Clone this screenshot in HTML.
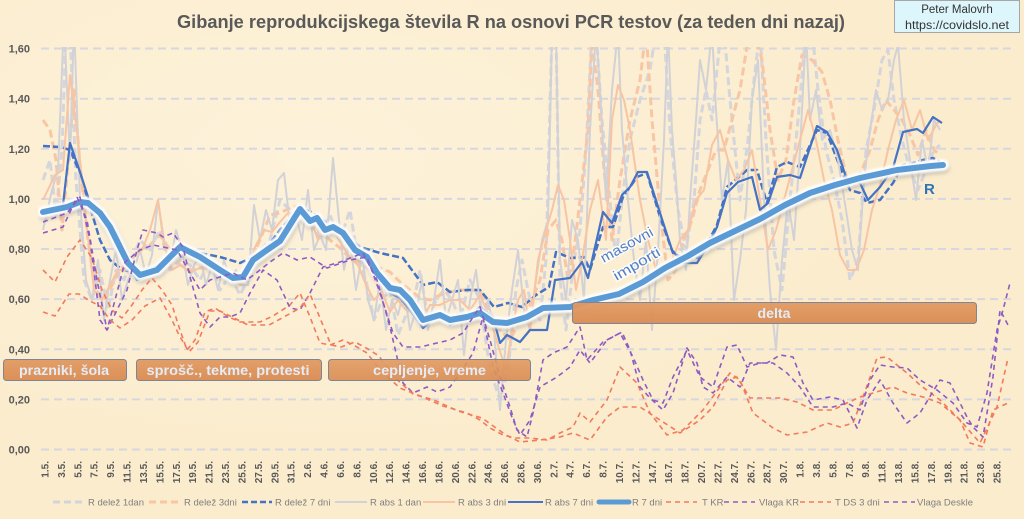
<!DOCTYPE html>
<html>
<head>
<meta charset="utf-8">
<style>
  html,body{margin:0;padding:0;background:#fcefd3;}
  svg{display:block;}
</style>
</head>
<body>
<svg width="1024" height="519" viewBox="0 0 1024 519" xmlns="http://www.w3.org/2000/svg">
  <defs>
    <radialGradient id="bg1" cx="30%" cy="30%" r="60%">
      <stop offset="0" stop-color="#fdf2da" stop-opacity="1"/>
      <stop offset="1" stop-color="#fbeccd" stop-opacity="1"/>
    </radialGradient>
    <clipPath id="plot"><rect x="38" y="47" width="980" height="406"/></clipPath>
    <filter id="blur2" x="-5%" y="-20%" width="110%" height="140%"><feGaussianBlur stdDeviation="2"/></filter>
    <filter id="blur1" x="-5%" y="-20%" width="110%" height="140%"><feGaussianBlur stdDeviation="1"/></filter>
    <linearGradient id="boxg" x1="0" y1="0" x2="0" y2="1">
      <stop offset="0" stop-color="#e29a62"/>
      <stop offset="1" stop-color="#d98b52"/>
    </linearGradient>
  </defs>

  <!-- background -->
  <rect x="0" y="0" width="1024" height="519" fill="url(#bg1)"/>

  <!-- title -->
  <text x="177" y="28" font-family="Liberation Sans, sans-serif" font-size="18" font-weight="bold" fill="#595959" textLength="668" lengthAdjust="spacingAndGlyphs">Gibanje reprodukcijskega števila R na osnovi PCR testov (za teden dni nazaj)</text>

  <!-- author box -->
  <rect x="894.5" y="0.5" width="125" height="32" fill="#dcf6fb" stroke="#a6a6a6" stroke-width="1"/>
  <text x="957" y="13" text-anchor="middle" font-family="Liberation Sans, sans-serif" font-size="11.5" fill="#333">Peter Malovrh</text>
  <text x="957" y="29" text-anchor="middle" font-family="Liberation Sans, sans-serif" font-size="12" fill="#333" textLength="104" lengthAdjust="spacingAndGlyphs">https://covidslo.net</text>

  <!-- gridlines -->
  <g stroke="#d6d7df" stroke-width="2" stroke-dasharray="8 5" fill="none">
    <line x1="41" y1="449.5" x2="1013" y2="449.5"/>
    <line x1="41" y1="399.4" x2="1013" y2="399.4"/>
    <line x1="41" y1="349.3" x2="1013" y2="349.3"/>
    <line x1="41" y1="299.1" x2="1013" y2="299.1"/>
    <line x1="41" y1="249.0" x2="1013" y2="249.0"/>
    <line x1="41" y1="198.9" x2="1013" y2="198.9"/>
    <line x1="41" y1="148.8" x2="1013" y2="148.8"/>
    <line x1="41" y1="98.7" x2="1013" y2="98.7"/>
    <line x1="41" y1="48.5" x2="1013" y2="48.5"/>
  </g>

  <!-- y labels -->
  <g font-family="Liberation Sans, sans-serif" font-size="11" font-weight="bold" fill="#595959" text-anchor="end">
    <text x="30" y="453.5">0,00</text>
    <text x="30" y="403.4">0,20</text>
    <text x="30" y="353.3">0,40</text>
    <text x="30" y="303.1">0,60</text>
    <text x="30" y="253.0">0,80</text>
    <text x="30" y="202.9">1,00</text>
    <text x="30" y="152.8">1,20</text>
    <text x="30" y="102.7">1,40</text>
    <text x="30" y="52.5">1,60</text>
  </g>

  <!-- annotation boxes (under series partly) -->
  <g clip-path="url(#plot)">
    <!-- R delež 1dan (gray dashed) -->
    <polyline fill="none" stroke="#d5d5dc" stroke-width="3" stroke-dasharray="8 4" stroke-linejoin="round" points="43,180 50,160 56,215 62,150 66,30 70,30 76,180 84,280 92,300 100,270 108,310 116,270 124,280 132,260 140,240 150,250 160,230 170,270 180,260 190,265 200,280 210,260 220,290 230,275 240,295 250,275 260,250 270,240 280,200 290,210 300,215 310,215 320,240 330,215 340,240 350,210 358,260 366,280 374,320 382,300 390,290 398,335 406,315 414,300 420,270 428,320 436,300 444,290 452,300 460,320 470,280 480,300 490,370 500,400 508,370 516,290 522,260 530,300 540,320 546,260 552,30 556,30 560,280 566,330 574,260 580,230 586,150 592,30 596,30 602,120 610,200 616,260 622,200 630,140 640,100 650,70 656,30 664,30 670,130 678,210 686,250 694,200 700,120 706,90 712,120 720,40 724,30 730,100 740,200 748,140 754,80 760,30 766,140 774,250 782,290 790,200 798,120 806,30 812,30 818,90 826,150 834,180 842,220 850,280 858,260 866,150 874,110 882,60 888,50 894,100 902,140 910,170 918,190 926,170 934,150 940,145"/>
    <!-- R delež 3dni (peach dashed) -->
    <polyline fill="none" stroke="#f8c6a5" stroke-width="3" stroke-dasharray="8 4" stroke-linejoin="round" points="43,120 50,130 56,160 62,230 68,165 74,90 80,165 88,240 96,290 104,300 112,285 120,270 130,260 140,250 150,245 160,235 170,250 180,265 190,270 200,268 210,268 220,268 230,275 240,282 250,262 260,240 270,215 280,213 290,208 300,205 310,220 320,232 330,240 340,248 350,258 360,262 370,270 380,268 390,272 400,282 410,290 420,298 430,300 440,295 450,292 460,290 470,290 480,290 490,312 500,330 510,340 520,320 530,305 540,280 548,230 556,220 562,240 568,280 574,250 580,200 588,130 592,40 598,90 604,170 612,240 620,180 630,120 640,80 646,30 652,120 660,210 668,280 676,270 684,240 692,220 700,190 708,170 716,150 724,150 732,120 740,90 748,40 754,30 762,60 770,130 778,180 786,160 794,100 802,55 812,60 822,72 830,100 838,140 846,175 854,185 862,170 870,150 878,120 886,100 894,110 902,120 910,135 918,155 926,130 934,150 940,155"/>
    <!-- R delež 7 dni (blue dashed) -->
    <polyline fill="none" stroke="#4472c4" stroke-width="2.5" stroke-dasharray="7 3" stroke-linejoin="round" points="43,146 60,147 70,150 80,173 90,207 100,240 110,260 120,268 133,273 157,267 180,245 200,253 220,257 240,263 253,257 267,247 280,230 300,207 313,213 330,225 345,235 360,247 380,253 403,258 423,285 437,282 450,292 467,290 480,290 494,307 508,303 522,307 536,295 549,287 556,252 570,258 584,257 590,270 603,227 613,227 623,197 637,177 647,173 660,217 673,253 687,260 700,257 717,225 727,187 747,170 757,170 767,203 777,167 787,162 800,167 817,130 827,133 840,167 850,190 860,193 867,203 880,200 893,183 903,165 913,163 923,160 933,158 940,162"/>
    <!-- R abs 1 dan (gray solid) -->
    <polyline fill="none" stroke="#d2d2d6" stroke-width="2" stroke-linejoin="round" points="43,230 52,190 58,170 64,20 70,160 74,20 80,200 86,280 92,300 98,260 104,320 110,280 116,250 122,300 128,280 134,270 140,250 146,275 152,255 158,200 164,240 170,265 176,230 182,250 188,285 194,265 200,255 206,285 212,265 218,290 224,260 230,280 236,270 242,285 248,285 254,205 260,240 266,210 272,230 278,180 284,173 290,225 296,215 302,240 308,190 314,250 320,235 326,250 333,158 338,210 344,270 350,240 356,290 362,255 368,300 374,320 380,280 386,330 392,300 398,315 404,290 410,330 416,310 422,280 428,330 434,300 440,260 446,320 452,300 458,280 464,355 470,300 476,270 482,320 488,300 494,330 500,410 506,340 512,290 518,250 524,310 530,330 536,280 542,240 548,220 552,30 556,30 560,260 566,300 572,220 578,240 584,300 590,130 596,30 600,90 606,200 612,90 618,30 622,130 628,200 634,260 640,300 646,240 652,330 658,250 664,140 668,30 672,130 676,180 680,240 686,270 690,200 696,120 700,60 706,90 712,30 716,110 722,200 728,160 734,300 740,260 746,210 752,100 758,60 764,200 770,290 776,350 782,260 788,200 794,240 800,150 806,30 810,120 816,90 822,140 830,130 838,160 846,210 852,250 858,270 864,180 870,130 876,90 882,110 888,100 894,60 898,45 904,120 910,160 916,200 922,140 928,170 934,120 940,130"/>
    <!-- R abs 3 dni (peach solid) -->
    <polyline fill="none" stroke="#f7c5a3" stroke-width="2" stroke-linejoin="round" points="43,200 55,175 63,170 70,75 78,140 86,220 94,290 102,300 110,285 118,270 126,270 134,255 142,250 150,230 158,200 164,245 172,270 180,265 190,272 200,268 210,262 220,270 232,275 240,285 248,265 256,245 264,230 272,232 280,222 288,213 296,215 302,208 310,218 318,240 326,225 334,232 342,245 350,258 358,265 366,285 374,300 382,292 390,312 398,300 406,310 414,300 422,320 430,305 440,305 450,300 460,300 470,310 480,295 490,318 498,345 506,370 512,330 518,300 524,290 530,330 538,260 546,230 552,210 558,185 564,200 570,240 576,290 582,260 590,210 598,180 606,240 612,120 618,85 624,100 630,130 640,200 648,240 656,270 664,275 672,260 680,240 688,230 696,200 704,190 712,145 720,130 728,160 736,180 744,170 752,150 760,200 768,250 776,230 784,200 792,170 800,140 808,110 816,140 824,180 832,210 840,255 848,270 856,270 864,250 872,210 880,185 888,150 896,120 904,100 912,130 920,110 928,140 936,125 940,120"/>
    <!-- R abs 7 dni (blue solid) -->
    <polyline fill="none" stroke="#4472c4" stroke-width="2.2" stroke-linejoin="round" points="43,212 55,209 63,205 70,143 80,172 90,203 100,217 110,222 120,240 127,265 137,280 143,278 157,270 180,246 200,256 220,268 233,276 243,278 253,262 267,252 280,242 300,208 310,220 317,218 325,230 333,227 343,233 355,250 367,257 377,275 390,293 400,298 410,310 423,328 440,313 450,325 473,313 480,307 493,317 500,343 507,335 520,342 530,330 547,330 555,280 570,278 582,262 588,278 603,212 612,223 622,195 630,187 638,172 647,172 660,213 672,250 683,263 697,263 707,247 717,227 727,193 738,182 752,177 760,210 768,203 777,177 790,175 800,178 817,126 827,132 837,150 847,180 860,183 868,200 880,187 893,168 903,132 917,129 923,133 933,117 942,123"/>
    <!-- R 7 dni (thick with glow) -->
    <polyline fill="none" stroke="#7f7f7f" stroke-opacity="0.45" stroke-width="10" stroke-linejoin="round" stroke-linecap="round" filter="url(#blur2)" transform="translate(1,3)" points="43,212 67,207 80,202 88,203 100,213 110,227 120,247 128,263 140,275 157,270 180,247 200,257 220,270 233,278 243,277 253,260 267,250 280,241 300,209 310,221 317,218 325,230 333,227 343,233 355,250 367,257 377,273 390,288 400,290 410,300 423,320 440,315 450,320 467,317 480,313 493,322 507,323 527,317 543,308 570,307 593,300 619,294 643,282 665,268 688,256 710,243 735,231 760,219 785,205 810,193 835,185 860,178 897,170 931,166 943,165"/>
    <polyline fill="none" stroke="#ffffff" stroke-opacity="0.95" stroke-width="12" stroke-linejoin="round" stroke-linecap="round" filter="url(#blur1)" points="43,212 67,207 80,202 88,203 100,213 110,227 120,247 128,263 140,275 157,270 180,247 200,257 220,270 233,278 243,277 253,260 267,250 280,241 300,209 310,221 317,218 325,230 333,227 343,233 355,250 367,257 377,273 390,288 400,290 410,300 423,320 440,315 450,320 467,317 480,313 493,322 507,323 527,317 543,308 570,307 593,300 619,294 643,282 665,268 688,256 710,243 735,231 760,219 785,205 810,193 835,185 860,178 897,170 931,166 943,165"/>
    <polyline fill="none" stroke="#5b9bd5" stroke-width="6" stroke-linejoin="round" stroke-linecap="round" points="43,212 67,207 80,202 88,203 100,213 110,227 120,247 128,263 140,275 157,270 180,247 200,257 220,270 233,278 243,277 253,260 267,250 280,241 300,209 310,221 317,218 325,230 333,227 343,233 355,250 367,257 377,273 390,288 400,290 410,300 423,320 440,315 450,320 467,317 480,313 493,322 507,323 527,317 543,308 570,307 593,300 619,294 643,282 665,268 688,256 710,243 735,231 760,219 785,205 810,193 835,185 860,178 897,170 931,166 943,165"/>

    <!-- T KR (red dashed) -->
    <polyline fill="none" stroke="#f27a5c" stroke-width="1.6" stroke-dasharray="5 4" stroke-linejoin="round" points="43,270 55,282 67,257 80,240 92,258 102,290 112,310 122,318 132,305 142,290 152,278 162,290 172,305 180,330 187,350 195,340 205,312 215,308 227,316 240,322 260,322 273,316 290,305 300,293 310,317 320,343 330,345 343,340 357,347 367,353 380,370 400,388 420,396 443,406 467,413 480,420 490,428 503,435 515,438 530,438 547,440 560,433 573,427 580,413 590,422 607,400 620,367 637,383 650,413 667,435 683,430 703,410 720,387 730,373 740,380 753,413 773,428 787,435 807,432 827,423 840,427 853,423 863,397 877,358 887,357 907,373 920,385 940,400 960,420 980,443 997,407 1008,358"/>
    <!-- Vlaga KR (purple dashed) -->
    <polyline fill="none" stroke="#8d5cc2" stroke-width="1.6" stroke-dasharray="5 4" stroke-linejoin="round" points="43,233 63,227 77,197 87,220 97,280 107,330 117,310 127,290 137,250 143,230 157,233 163,237 173,233 183,247 190,277 200,313 210,327 220,317 230,317 240,313 250,293 263,270 277,280 290,308 300,310 310,293 323,267 340,262 363,253 377,280 390,327 403,383 413,393 427,387 437,392 450,387 460,373 473,353 483,317 493,367 503,393 513,420 520,435 530,420 540,387 557,377 570,367 580,350 590,363 607,340 622,332 630,350 640,387 650,398 663,410 673,393 687,348 697,363 703,387 713,393 727,377 740,387 750,363 767,363 780,355 793,357 803,383 813,400 830,397 843,400 857,428 867,400 880,380 893,403 907,423 920,413 940,380 950,383 967,417 973,427 983,437 993,377 1000,310 1008,325"/>
    <!-- T DS 3 dni (red dashed) -->
    <polyline fill="none" stroke="#f27a5c" stroke-width="1.6" stroke-dasharray="5 4" stroke-linejoin="round" points="43,312 55,316 69,294 79,294 90,301 100,306 110,320 120,328 132,320 145,306 160,298 172,320 179,335 189,352 198,342 210,311 220,311 234,318 248,325 269,325 282,318 300,308 310,294 320,318 331,345 341,347 355,342 368,349 379,356 393,376 413,394 434,400 458,411 482,418 496,428 506,435 520,442 540,440 560,437 573,433 590,440 607,417 620,407 640,407 660,420 680,433 700,420 713,407 727,380 737,377 750,398 780,398 797,402 813,410 833,410 847,403 860,397 873,393 893,387 907,393 923,397 940,403 960,420 970,443 983,447 993,410 1008,403"/>
    <!-- Vlaga Deskle (purple dashed) -->
    <polyline fill="none" stroke="#8d5cc2" stroke-width="1.6" stroke-dasharray="5 4" stroke-linejoin="round" points="43,222 67,213 80,197 90,240 100,320 107,330 115,300 125,262 140,250 153,245 163,247 177,250 190,273 200,290 210,280 220,277 233,273 247,280 260,270 270,262 283,253 297,260 310,257 327,268 350,260 367,257 380,293 393,333 403,347 420,347 437,343 450,340 463,333 473,317 480,307 490,340 500,377 510,407 517,430 527,437 533,413 543,360 553,353 567,347 580,327 587,360 603,342 620,333 633,357 643,380 653,400 663,403 673,377 687,350 700,377 713,387 727,347 737,345 747,367 760,363 773,363 787,373 800,387 813,407 833,407 847,403 860,410 870,380 880,365 893,367 907,368 920,380 937,390 953,403 967,423 977,427 987,393 997,330 1003,310 1010,283"/>
  </g>

  <!-- annotation boxes -->
  <g font-family="Liberation Sans, sans-serif" font-weight="bold" font-size="14" fill="#e3ecf7" text-anchor="middle">
    <rect x="3.5" y="359.5" width="123" height="21" rx="3" fill="url(#boxg)" fill-opacity="0.95" stroke="#7d8596" stroke-width="1"/>
    <text x="64" y="375" textLength="90" lengthAdjust="spacingAndGlyphs">prazniki, šola</text>
    <rect x="136.5" y="359.5" width="185" height="21" rx="3" fill="url(#boxg)" fill-opacity="0.95" stroke="#7d8596" stroke-width="1"/>
    <text x="228" y="375" textLength="163" lengthAdjust="spacingAndGlyphs">sprošč., tekme, protesti</text>
    <rect x="328.5" y="359.5" width="202" height="21" rx="3" fill="url(#boxg)" fill-opacity="0.9" stroke="#7d8596" stroke-width="1"/>
    <text x="429.5" y="375" textLength="113" lengthAdjust="spacingAndGlyphs">cepljenje, vreme</text>
    <rect x="572.5" y="302.5" width="404" height="21" rx="3" fill="url(#boxg)" fill-opacity="0.95" stroke="#7d8596" stroke-width="1"/>
    <text x="774" y="318" textLength="33" lengthAdjust="spacingAndGlyphs">delta</text>
  </g>

  <!-- masovni importi -->
  <g font-family="Liberation Sans, sans-serif" font-size="14" fill="#4f7fc9" stroke="#ffffff" stroke-width="3" stroke-opacity="0.8" paint-order="stroke" text-anchor="middle">
    <text transform="translate(629,249) rotate(-29)" textLength="58" lengthAdjust="spacingAndGlyphs">masovni</text>
    <text transform="translate(639,268) rotate(-30)" textLength="52" lengthAdjust="spacingAndGlyphs">importi</text>
  </g>

  <!-- R label -->
  <text x="924" y="194" font-family="Liberation Sans, sans-serif" font-size="15" font-weight="bold" fill="#2e75b6">R</text>

  <!-- x labels -->
  <g font-family="Liberation Sans, sans-serif" font-size="10" font-weight="bold" fill="#595959" text-anchor="end">
    <text transform="translate(48.5,461) rotate(-90)">1.5.</text>
    <text transform="translate(64.9,461) rotate(-90)">3.5.</text>
    <text transform="translate(81.3,461) rotate(-90)">5.5.</text>
    <text transform="translate(97.7,461) rotate(-90)">7.5.</text>
    <text transform="translate(114.2,461) rotate(-90)">9.5.</text>
    <text transform="translate(130.6,461) rotate(-90)">11.5.</text>
    <text transform="translate(147.0,461) rotate(-90)">13.5.</text>
    <text transform="translate(163.4,461) rotate(-90)">15.5.</text>
    <text transform="translate(179.8,461) rotate(-90)">17.5.</text>
    <text transform="translate(196.2,461) rotate(-90)">19.5.</text>
    <text transform="translate(212.6,461) rotate(-90)">21.5.</text>
    <text transform="translate(229.1,461) rotate(-90)">23.5.</text>
    <text transform="translate(245.5,461) rotate(-90)">25.5.</text>
    <text transform="translate(261.9,461) rotate(-90)">27.5.</text>
    <text transform="translate(278.3,461) rotate(-90)">29.5.</text>
    <text transform="translate(294.7,461) rotate(-90)">31.5.</text>
    <text transform="translate(311.1,461) rotate(-90)">2.6.</text>
    <text transform="translate(327.5,461) rotate(-90)">4.6.</text>
    <text transform="translate(344.0,461) rotate(-90)">6.6.</text>
    <text transform="translate(360.4,461) rotate(-90)">8.6.</text>
    <text transform="translate(376.8,461) rotate(-90)">10.6.</text>
    <text transform="translate(393.2,461) rotate(-90)">12.6.</text>
    <text transform="translate(409.6,461) rotate(-90)">14.6.</text>
    <text transform="translate(426.0,461) rotate(-90)">16.6.</text>
    <text transform="translate(442.4,461) rotate(-90)">18.6.</text>
    <text transform="translate(458.9,461) rotate(-90)">20.6.</text>
    <text transform="translate(475.3,461) rotate(-90)">22.6.</text>
    <text transform="translate(491.7,461) rotate(-90)">24.6.</text>
    <text transform="translate(508.1,461) rotate(-90)">26.6.</text>
    <text transform="translate(524.5,461) rotate(-90)">28.6.</text>
    <text transform="translate(540.9,461) rotate(-90)">30.6.</text>
    <text transform="translate(557.3,461) rotate(-90)">2.7.</text>
    <text transform="translate(573.7,461) rotate(-90)">4.7.</text>
    <text transform="translate(590.2,461) rotate(-90)">6.7.</text>
    <text transform="translate(606.6,461) rotate(-90)">8.7.</text>
    <text transform="translate(623.0,461) rotate(-90)">10.7.</text>
    <text transform="translate(639.4,461) rotate(-90)">12.7.</text>
    <text transform="translate(655.8,461) rotate(-90)">14.7.</text>
    <text transform="translate(672.2,461) rotate(-90)">16.7.</text>
    <text transform="translate(688.6,461) rotate(-90)">18.7.</text>
    <text transform="translate(705.1,461) rotate(-90)">20.7.</text>
    <text transform="translate(721.5,461) rotate(-90)">22.7.</text>
    <text transform="translate(737.9,461) rotate(-90)">24.7.</text>
    <text transform="translate(754.3,461) rotate(-90)">26.7.</text>
    <text transform="translate(770.7,461) rotate(-90)">28.7.</text>
    <text transform="translate(787.1,461) rotate(-90)">30.7.</text>
    <text transform="translate(803.5,461) rotate(-90)">1.8.</text>
    <text transform="translate(820.0,461) rotate(-90)">3.8.</text>
    <text transform="translate(836.4,461) rotate(-90)">5.8.</text>
    <text transform="translate(852.8,461) rotate(-90)">7.8.</text>
    <text transform="translate(869.2,461) rotate(-90)">9.8.</text>
    <text transform="translate(885.6,461) rotate(-90)">11.8.</text>
    <text transform="translate(902.0,461) rotate(-90)">13.8.</text>
    <text transform="translate(918.4,461) rotate(-90)">15.8.</text>
    <text transform="translate(934.9,461) rotate(-90)">17.8.</text>
    <text transform="translate(951.3,461) rotate(-90)">19.8.</text>
    <text transform="translate(967.7,461) rotate(-90)">21.8.</text>
    <text transform="translate(984.1,461) rotate(-90)">23.8.</text>
    <text transform="translate(1000.5,461) rotate(-90)">25.8.</text>
  </g>

  <!-- legend -->
  <g fill="none">
    <line x1="53" y1="502" x2="85" y2="502" stroke="#d3d3da" stroke-width="3" stroke-dasharray="7 4"/>
    <line x1="149" y1="502" x2="180" y2="502" stroke="#f8c6a5" stroke-width="3" stroke-dasharray="7 4"/>
    <line x1="242" y1="502" x2="272" y2="502" stroke="#4472c4" stroke-width="2.5" stroke-dasharray="6 3"/>
    <line x1="335" y1="502" x2="367" y2="502" stroke="#d2d2d6" stroke-width="2"/>
    <line x1="423" y1="502" x2="455" y2="502" stroke="#f7c5a3" stroke-width="2"/>
    <line x1="508" y1="502" x2="543" y2="502" stroke="#4472c4" stroke-width="2"/>
    <line x1="599" y1="502" x2="629" y2="502" stroke="#5b9bd5" stroke-width="5" stroke-linecap="round"/>
    <line x1="666" y1="502" x2="697" y2="502" stroke="#f27a5c" stroke-width="1.6" stroke-dasharray="5 4"/>
    <line x1="724" y1="502" x2="755" y2="502" stroke="#8d5cc2" stroke-width="1.6" stroke-dasharray="5 4"/>
    <line x1="800" y1="502" x2="831" y2="502" stroke="#f27a5c" stroke-width="1.6" stroke-dasharray="5 4"/>
    <line x1="884" y1="502" x2="915" y2="502" stroke="#8d5cc2" stroke-width="1.6" stroke-dasharray="5 4"/>
  </g>
  <g font-family="Liberation Sans, sans-serif" font-size="9.5" fill="#7f7f7f">
    <text x="88" y="505.5">R delež 1dan</text>
    <text x="184" y="505.5">R delež 3dni</text>
    <text x="275" y="505.5">R delež 7 dni</text>
    <text x="370" y="505.5">R abs 1 dan</text>
    <text x="458" y="505.5">R abs 3 dni</text>
    <text x="545" y="505.5">R abs 7 dni</text>
    <text x="632" y="505.5">R 7 dni</text>
    <text x="702" y="505.5">T KR</text>
    <text x="759" y="505.5">Vlaga KR</text>
    <text x="835" y="505.5">T DS 3 dni</text>
    <text x="917" y="505.5">Vlaga Deskle</text>
  </g>
</svg>
</body>
</html>
